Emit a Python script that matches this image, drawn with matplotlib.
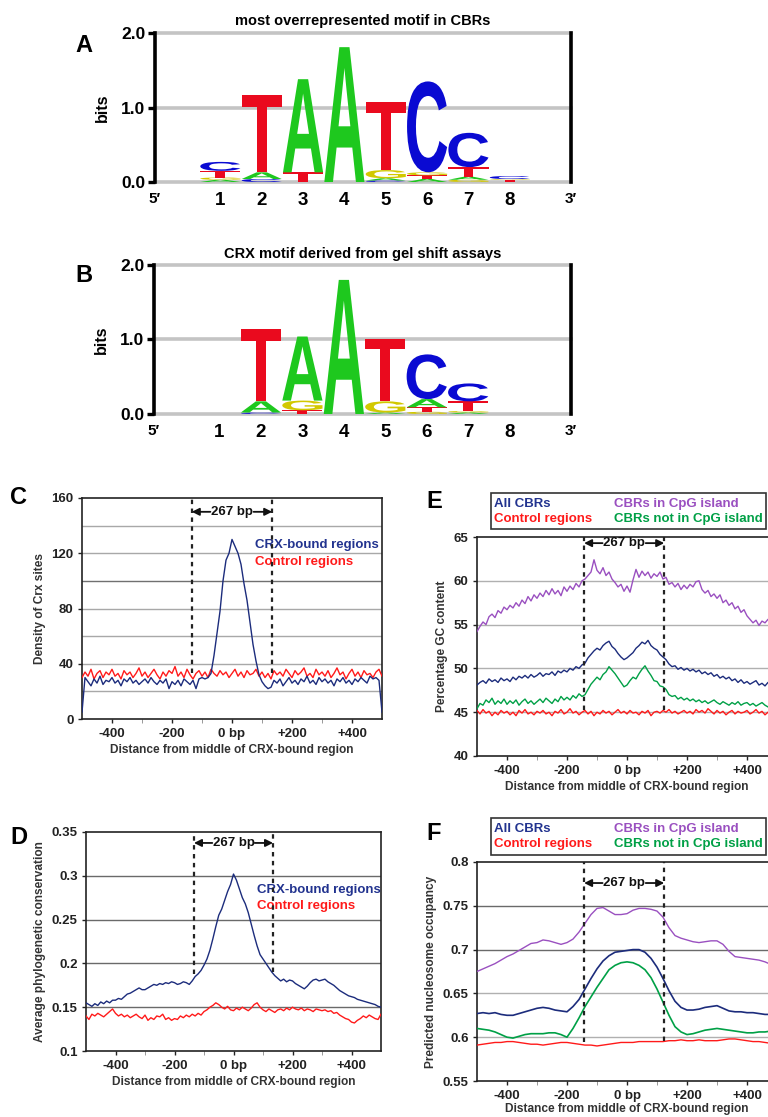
import numpy as np
import matplotlib
matplotlib.use('Agg')
import matplotlib.pyplot as plt
from matplotlib.textpath import TextPath
from matplotlib.patches import PathPatch, Rectangle
from matplotlib.font_manager import FontProperties
from matplotlib.transforms import Affine2D

plt.rcParams['font.family'] = ['Liberation Sans', 'DejaVu Sans']
plt.rcParams['font.weight'] = 'bold'
plt.rcParams['axes.labelweight'] = 'bold'

# ---- sequence logos (position, letter, bits), stacked bottom -> top
logo_a_pos = [1, 1, 1, 1, 2, 2, 2, 3, 3, 4, 5, 5, 5, 5, 6, 6, 6, 6, 7, 7, 7, 7, 8, 8, 8]
logo_a_let = ['A', 'G', 'T', 'C', 'C', 'A', 'T', 'T', 'A', 'A', 'C', 'A', 'G', 'T',
              'A', 'T', 'G', 'C', 'G', 'A', 'T', 'C', 'T', 'G', 'C']
logo_a_bits = [0.03, 0.03, 0.09, 0.12, 0.04, 0.09, 1.04, 0.13, 1.25, 1.81, 0.02, 0.03, 0.11, 0.92,
               0.04, 0.05, 0.04, 1.22, 0.03, 0.04, 0.13, 0.46, 0.03, 0.01, 0.04]

logo_b_pos = [2, 2, 2, 3, 3, 3, 4, 5, 5, 5, 6, 6, 6, 6, 7, 7, 7, 7]
logo_b_let = ['C', 'A', 'T', 'T', 'G', 'A', 'A', 'A', 'G', 'T', 'G', 'T', 'A', 'C', 'A', 'G', 'T', 'C']
logo_b_bits = [0.02, 0.15, 0.97, 0.05, 0.13, 0.86, 1.80, 0.02, 0.15, 0.83,
               0.03, 0.06, 0.11, 0.60, 0.02, 0.02, 0.13, 0.24]

positions = [1, 2, 3, 4, 5, 6, 7, 8]
letter_colors = {'A': '#1ec81e', 'C': '#0a0ad2', 'G': '#d2c800', 'T': '#ea0a1e'}

# ---- profile data
dist10 = np.arange(-500, 501, 10)
dist20 = np.arange(-500, 501, 20)
dist_ticks = [-400, -200, 0, 200, 400]
dist_labels = ['-400', '-200', '0 bp', '+200', '+400']

crx_bound = [5, 30, 27, 24, 29, 26, 31, 25, 28, 27,
             30, 26, 28, 24, 29, 27, 30, 26, 28, 25,
             27, 29, 26, 30, 27, 25, 28, 26, 29, 22,
             27, 25, 28, 24, 29, 27, 25, 28, 22, 29,
             30, 29, 30, 33, 46, 62, 78, 100, 115, 120,
             130, 125, 120, 112, 98, 86, 70, 54, 42, 32,
             27, 24, 22, 23, 28, 26, 29, 24, 27, 30,
             26, 28, 25, 29, 27, 31, 26, 28, 25, 30,
             27, 29, 26, 28, 24, 29, 27, 30, 26, 28,
             25, 29, 27, 30, 28, 26, 31, 29, 30, 28,
             5]
crx_control = [30, 34, 31, 36, 29, 33, 35, 30, 34, 32,
               36, 31, 33, 29, 35, 32, 34, 30, 33, 37,
               31, 34, 30, 33, 36, 32, 29, 34, 31, 35,
               33, 38, 31, 34, 30, 36, 32, 29, 33, 35,
               31, 34, 30, 36, 33, 31, 35, 32, 34, 30,
               33, 36, 31, 34, 30, 35, 32, 33, 36, 31,
               34, 30, 33, 29, 35, 32, 34, 31, 36, 33,
               30, 35, 32, 34, 37, 31, 33, 30, 36, 32,
               34, 31, 35, 30, 33, 37, 32, 34, 29, 33,
               36, 31, 34, 30, 35, 32, 33, 30, 34, 36,
               31]

cons_bound = [.155, .153, .151, .154, .152, .156, .154, .157, .155, .158,
              .158, .160, .159, .162, .165, .166, .168, .170, .172, .170,
              .170, .172, .174, .176, .175, .177, .176, .178, .177, .179,
              .178, .176, .177, .179, .178, .176, .180, .185, .188, .192,
              .198, .205, .215, .228, .242, .255, .262, .272, .282, .290,
              .302, .295, .285, .275, .268, .258, .245, .232, .220, .210,
              .205, .200, .195, .190, .186, .183, .180, .182, .179, .181,
              .180, .177, .175, .173, .171, .174, .178, .181, .182, .180,
              .181, .182, .179, .177, .175, .172, .169, .167, .165, .163,
              .162, .161, .159, .158, .157, .156, .155, .154, .153, .151,
              .150]
cons_control = [.140, .136, .142, .140, .143, .141, .139, .142, .145, .148,
                .143, .140, .142, .139, .141, .138, .140, .142, .139, .137,
                .141, .135, .138, .136, .140, .139, .142, .136, .138, .135,
                .137, .136, .140, .138, .141, .139, .142, .140, .143, .141,
                .145, .147, .150, .152, .155, .153, .150, .148, .151, .147,
                .146, .149, .147, .150, .148, .146, .149, .153, .155, .150,
                .147, .145, .148, .146, .144, .147, .148, .146, .149, .147,
                .150, .148, .147, .149, .146, .148, .147, .145, .148, .147,
                .146, .147, .145, .146, .143, .144, .141, .139, .137, .136,
                .133, .132, .135, .137, .140, .138, .141, .139, .137, .136,
                .142]

gc_cpg = [54.2, 54.8, 55.3, 55.0, 55.9, 56.2, 55.8, 56.6, 56.3, 57.0,
          56.7, 57.2, 56.9, 57.5, 57.1, 57.8, 57.4, 58.2, 57.7, 58.4,
          58.0, 58.6, 58.2, 58.9, 58.4, 59.1, 58.5, 58.9, 58.3, 59.3,
          58.8, 59.4, 59.0, 59.7, 59.3, 60.0, 60.2, 60.6, 61.0, 62.4,
          61.2, 60.8, 61.5, 60.6, 61.0, 60.2, 59.8, 59.3, 59.6, 58.8,
          59.4, 58.7, 60.1, 61.3, 60.4, 61.1, 60.6, 61.0, 60.3, 60.8,
          60.5, 61.0, 60.2, 60.4, 59.6, 59.8, 59.3, 59.7, 59.0, 59.5,
          59.1, 59.6, 59.3, 59.9, 60.0, 59.0, 58.6, 58.9, 58.2, 58.5,
          58.0, 58.4, 57.5, 57.8, 57.2, 57.5, 56.8, 57.1, 56.4, 56.7,
          56.0, 55.6, 55.2, 55.5, 54.9, 55.4, 55.2, 55.6, 55.3, 55.7,
          55.5]
gc_all = [48.1, 48.4, 48.6, 48.3, 48.8, 48.5, 48.7, 48.4, 48.9, 48.6,
          48.8, 48.5, 49.0, 48.7, 49.1, 48.9, 49.2, 48.9, 49.3, 49.0,
          49.2, 49.5, 49.1, 49.4, 49.3, 49.6, 49.2, 49.7, 49.5, 49.8,
          49.6, 50.0, 49.8, 50.2, 50.0, 50.4, 50.6, 51.2, 51.6, 52.0,
          52.3, 52.1, 52.6, 52.9, 53.1, 52.5, 52.2, 51.7, 51.3, 51.0,
          51.2, 51.5, 51.8, 52.3, 52.6, 53.0, 52.8, 53.2, 52.6, 52.3,
          52.1, 51.6, 51.3, 51.0, 50.5, 50.2, 50.3, 49.9, 50.1, 49.8,
          50.0, 49.7, 49.9, 49.6, 49.8, 49.4, 49.6, 49.3, 49.5, 49.1,
          49.3, 48.9, 49.1, 48.8, 49.0, 48.6, 48.8, 48.4, 48.7, 48.3,
          48.5, 48.2, 48.4, 48.6, 48.1, 48.3, 48.0, 48.4, 48.2, 48.5,
          48.3]
gc_noncpg = [45.4, 46.0, 45.8, 46.4, 46.1, 46.6, 45.9, 46.3, 46.0, 46.5,
             45.9, 46.3, 46.0, 46.4, 45.8, 46.2, 46.5, 46.0, 46.3, 45.9,
             46.2, 46.5, 46.1, 46.6, 46.3, 46.0, 46.5, 46.2, 46.8, 46.4,
             46.7, 46.4, 46.9, 46.6, 47.1, 46.8, 47.0, 47.6, 48.2, 48.6,
             49.0, 48.7, 49.3, 49.6, 50.2, 49.8, 49.4, 48.9, 48.4, 47.9,
             48.1, 48.6, 49.0, 48.8, 49.4, 49.9, 50.3, 49.7, 49.2, 48.6,
             48.5, 48.0, 47.9, 47.6, 47.0, 46.8, 46.9, 46.5, 46.7, 46.4,
             46.6, 46.3, 46.5, 46.2, 46.4, 46.1, 46.3, 46.0, 46.2, 46.4,
             46.1, 45.9, 46.2, 46.0, 45.8, 46.1, 45.9, 46.2, 45.8, 46.0,
             46.1, 45.8, 46.0, 45.7, 45.9, 46.1, 45.8, 45.6, 45.9, 45.7,
             45.8]
gc_control = [45.2, 44.8, 45.3, 44.9, 45.1, 44.6, 45.0, 44.7, 45.2, 44.9,
              45.1, 44.7, 45.0, 44.6, 45.2, 44.9, 45.3, 44.8, 45.0, 44.7,
              45.1, 44.9, 45.2, 44.8, 45.0, 44.6, 45.1, 44.9, 45.3, 44.8,
              45.0, 45.4, 44.9, 45.1, 44.7, 45.0, 45.2, 44.8, 45.1, 44.6,
              45.0, 44.8, 45.2, 44.9, 45.1, 44.7, 45.0, 45.3, 44.9, 45.1,
              44.8, 45.2, 44.9, 45.0, 44.7, 45.1, 44.9, 45.2, 44.6, 45.0,
              45.1, 44.9, 45.2, 45.0, 45.3, 44.9, 45.1, 44.8, 45.0, 45.2,
              44.9, 45.1, 44.8, 45.3, 45.0, 45.2, 44.9, 45.4, 45.1, 44.8,
              45.2, 44.9, 45.1, 44.7, 45.0, 45.2, 44.8, 45.1, 44.9, 45.0,
              45.2, 44.8, 45.0, 45.3, 44.9, 45.1, 44.7, 45.0, 45.2, 44.9,
              45.1]

nuc_cpg = [.675, .678, .681, .684, .688, .692, .695, .699, .703, .707,
           .708, .711, .710, .708, .706, .708, .712, .720, .730, .740,
           .747, .748, .744, .740, .740, .741, .745, .747, .747, .746,
           .744, .737, .725, .716, .713, .711, .709, .708, .709, .710,
           .710, .706, .698, .692, .691, .690, .689, .688, .686, .683,
           .678]
nuc_all = [.627, .628, .627, .628, .626, .625, .625, .627, .629, .631,
           .633, .634, .633, .631, .630, .629, .635, .643, .655, .667,
           .678, .687, .693, .697, .698, .699, .700, .700, .697, .690,
           .680, .667, .653, .641, .634, .631, .631, .632, .634, .635,
           .636, .633, .630, .629, .629, .628, .628, .627, .626, .626,
           .625]
nuc_noncpg = [.610, .609, .608, .606, .603, .600, .599, .601, .603, .604,
              .604, .604, .605, .605, .603, .600, .610, .622, .635, .646,
              .657, .667, .677, .682, .685, .686, .685, .682, .677, .668,
              .655, .640, .625, .612, .606, .603, .604, .606, .608, .609,
              .610, .609, .608, .607, .606, .605, .605, .606, .606, .607,
              .606]
nuc_control = [.591, .592, .593, .594, .594, .595, .595, .594, .593, .592,
               .592, .591, .592, .593, .594, .594, .593, .592, .591, .591,
               .590, .591, .592, .593, .594, .594, .594, .595, .595, .595,
               .595, .595, .596, .596, .597, .596, .596, .597, .596, .596,
               .596, .597, .598, .598, .597, .596, .595, .595, .594, .593,
               .593]

BLUE = '#1c2c7c'
RED = '#ff1a1a'
PURPLE = '#9a50c0'
GREEN = '#00a046'

W, H = 768, 1117
fig = plt.figure(figsize=(W / 100, H / 100), dpi=100)


def rect(l, t, r, b):
    return [l / W, 1 - b / H, (r - l) / W, (b - t) / H]


logo_font = FontProperties(family='Liberation Sans', weight='bold')


def draw_logo(ax, pos, letters, bits):
    tops = {}
    for p, l, h in zip(pos, letters, bits):
        y0 = tops.get(p, 0.0)
        tp = TextPath((0, 0), l, size=1, prop=logo_font)
        bb = tp.get_extents()
        tr = Affine2D().translate(-bb.x0, -bb.y0).scale(0.97 / bb.width, h / bb.height).translate(p - 0.485, y0)
        ax.add_patch(PathPatch(tr.transform_path(tp), fc=letter_colors[l], ec='none', zorder=3))
        tops[p] = y0 + h
    x0, x1 = -0.58, 9.48
    ax.set_xlim(x0, x1)
    ax.set_ylim(0, 2.0)
    for g in [0, 1, 2]:
        ax.axhline(g, color='#c4c4c4', lw=2.6, zorder=1, clip_on=False)
    for s in ['top', 'bottom']:
        ax.spines[s].set_visible(False)
    for s in ['left', 'right']:
        ax.spines[s].set_linewidth(2.6)
        ax.spines[s].set_color('black')
    ax.set_yticks([0, 1, 2])
    ax.set_yticklabels(['0.0', '1.0', '2.0'])
    ax.tick_params(axis='y', length=5, width=2.4, labelsize=12.5, pad=2)
    ax.set_xticks([x0] + positions + [x1])
    ax.set_xticklabels(['5′'] + [str(p) for p in positions] + ['3′'])
    ax.tick_params(axis='x', length=0, labelsize=13.5, pad=7)
    for t in [ax.get_xticklabels()[0], ax.get_xticklabels()[-1]]:
        t.set_fontsize(11)
    ax.set_ylabel('bits', fontsize=11.5, labelpad=8)
    ax.patch.set_alpha(0)


ax_a = fig.add_axes(rect(155, 33, 571, 182))
draw_logo(ax_a, logo_a_pos, logo_a_let, logo_a_bits)
fig.text(363 / W, 1 - 21 / H, 'most overrepresented motif in CBRs', ha='center', va='center', fontsize=10.5)
fig.text(75 / W, 1 - 45 / H, 'A', fontsize=17, ha='left', va='center')

ax_b = fig.add_axes(rect(154, 265, 571, 414))
draw_logo(ax_b, logo_b_pos, logo_b_let, logo_b_bits)
fig.text(363 / W, 1 - 254 / H, 'CRX motif derived from gel shift assays', ha='center', va='center', fontsize=10.5)
fig.text(75 / W, 1 - 276 / H, 'B', fontsize=17, ha='left', va='center')


def profile_axes(ax, ylim, yticks, ylabels, grid_y, grid_c, ylabel):
    ax.set_xlim(-500, 500)
    ax.set_ylim(*ylim)
    for g, c in zip(grid_y, grid_c):
        ax.axhline(g, color=c, lw=1.0, zorder=1)
    ax.set_yticks(yticks)
    ax.set_yticklabels(ylabels)
    ax.set_xticks(dist_ticks)
    ax.set_xticklabels(dist_labels)
    ax.set_xticks([-300, -100, 100, 300], minor=True)
    ax.tick_params(axis='both', labelsize=9.5, length=3, width=1, colors='#222', pad=3)
    ax.tick_params(axis='x', which='minor', length=3, color='#888')
    ax.tick_params(axis='x', pad=10)
    for lbl in ax.get_xticklabels():
        lbl.set_verticalalignment('baseline')
    ax.set_xlabel('Distance from middle of CRX-bound region', fontsize=8.6, color='#333', labelpad=3)
    ax.set_ylabel(ylabel, fontsize=8.6, color='#333', labelpad=4)
    for s in ax.spines.values():
        s.set_linewidth(1.2)
        s.set_color('#222')


def mark_region(ax, left, right, ybar, ymin_l, ymin_r):
    top = ax.get_ylim()[1]
    ax.plot([left, left], [ymin_l, top], ls=(0, (2, 2)), color='#222', lw=1.6, zorder=4)
    ax.plot([right, right], [ymin_r, top], ls=(0, (2, 2)), color='#222', lw=1.6, zorder=4)
    mid = (left + right) / 2
    ax.text(mid, ybar, '267 bp', ha='center', va='center', fontsize=9.5, color='#111', zorder=5)
    for edge, end in [(mid - 72, left), (mid + 72, right)]:
        ax.annotate('', xy=(end, ybar), xytext=(edge, ybar),
                    arrowprops=dict(arrowstyle='-|>', color='#111', lw=1.3, mutation_scale=11,
                                    shrinkA=0, shrinkB=0), zorder=5)


# C
ax_c = fig.add_axes(rect(82, 498, 382, 719))
profile_axes(ax_c, (0, 160), [0, 40, 80, 120, 160], ['0', '40', '80', '120', '160'],
             [20, 40, 60, 80, 100, 120, 140],
             ['#a8a8a8', '#a8a8a8', '#a8a8a8', '#a8a8a8', '#707070', '#a8a8a8', '#a8a8a8'],
             'Density of Crx sites')
ax_c.plot(dist10, crx_control, color=RED, lw=1.0, zorder=3)
ax_c.plot(dist10, crx_bound, color=BLUE, lw=1.0, zorder=3)
mark_region(ax_c, -134, 134, 150, 33, 33)
ax_c.text(77, 126, 'CRX-bound regions', color='#22338f', fontsize=9.5, va='center')
ax_c.text(77, 114, 'Control regions', color=RED, fontsize=9.5, va='center')
fig.text(10 / W, 1 - 497 / H, 'C', fontsize=17, ha='left', va='center')

# D
ax_d = fig.add_axes(rect(86, 832, 381, 1051))
profile_axes(ax_d, (0.1, 0.35), [0.1, 0.15, 0.2, 0.25, 0.3, 0.35],
             ['0.1', '0.15', '0.2', '0.25', '0.3', '0.35'],
             [0.15, 0.2, 0.25, 0.3], ['#6a6a6a'] * 4,
             'Average phylogenetic conservation')
ax_d.plot(dist10, cons_control, color=RED, lw=1.0, zorder=3)
ax_d.plot(dist10, cons_bound, color=BLUE, lw=1.0, zorder=3)
mark_region(ax_d, -134, 134, 0.3375, 0.188, 0.19)
ax_d.text(79, 0.284, 'CRX-bound regions', color='#22338f', fontsize=9.5, va='center')
ax_d.text(79, 0.265, 'Control regions', color=RED, fontsize=9.5, va='center')
fig.text(10 / W, 1 - 838 / H, 'D', fontsize=17, ha='left', va='center')

# E
ax_e = fig.add_axes(rect(477, 537, 777, 756))
profile_axes(ax_e, (40, 65), [40, 45, 50, 55, 60, 65], ['40', '45', '50', '55', '60', '65'],
             [45, 50, 55, 60], ['#b0b0b0'] * 4, 'Percentage GC content')
ax_e.plot(dist10, gc_control, color=RED, lw=1.0, zorder=3)
ax_e.plot(dist10, gc_noncpg, color=GREEN, lw=1.0, zorder=3)
ax_e.plot(dist10, gc_all, color=BLUE, lw=1.0, zorder=3)
ax_e.plot(dist10, gc_cpg, color=PURPLE, lw=1.0, zorder=3)
mark_region(ax_e, -143, 124, 64.3, 45.2, 45.2)
fig.text(426 / W, 1 - 502 / H, 'E', fontsize=17, ha='left', va='center')

# F
ax_f = fig.add_axes(rect(477, 862, 777, 1081))
profile_axes(ax_f, (0.55, 0.8), [0.55, 0.6, 0.65, 0.7, 0.75, 0.8],
             ['0.55', '0.6', '0.65', '0.7', '0.75', '0.8'],
             [0.6, 0.65, 0.7, 0.75], ['#b0b0b0', '#b0b0b0', '#6a6a6a', '#6a6a6a'],
             'Predicted nucleosome occupancy')
ax_f.plot(dist20, nuc_control, color=RED, lw=1.0, zorder=3)
ax_f.plot(dist20, nuc_noncpg, color=GREEN, lw=1.2, zorder=3)
ax_f.plot(dist20, nuc_all, color=BLUE, lw=1.2, zorder=3)
ax_f.plot(dist20, nuc_cpg, color=PURPLE, lw=1.0, zorder=3)
mark_region(ax_f, -143, 124, 0.776, 0.595, 0.596)
ax_f.xaxis.labelpad = 1
fig.text(426 / W, 1 - 833 / H, 'F', fontsize=17, ha='left', va='center')

# legend boxes for E and F
for top, bot in [(493, 529), (818, 855)]:
    fig.add_artist(Rectangle((491 / W, 1 - bot / H), (766 - 491) / W, (bot - top) / H,
                             transform=fig.transFigure, fill=False, ec='#333', lw=1.2))
    row1 = 1 - (top + 11) / H
    row2 = 1 - (top + 26) / H
    fig.text(494 / W, row1, 'All CBRs', color='#22338f', fontsize=9.5, va='center')
    fig.text(614 / W, row1, 'CBRs in CpG island', color=PURPLE, fontsize=9.5, va='center')
    fig.text(494 / W, row2, 'Control regions', color=RED, fontsize=9.5, va='center')
    fig.text(614 / W, row2, 'CBRs not in CpG island', color=GREEN, fontsize=9.5, va='center')

fig.savefig('out.png', dpi=100)
